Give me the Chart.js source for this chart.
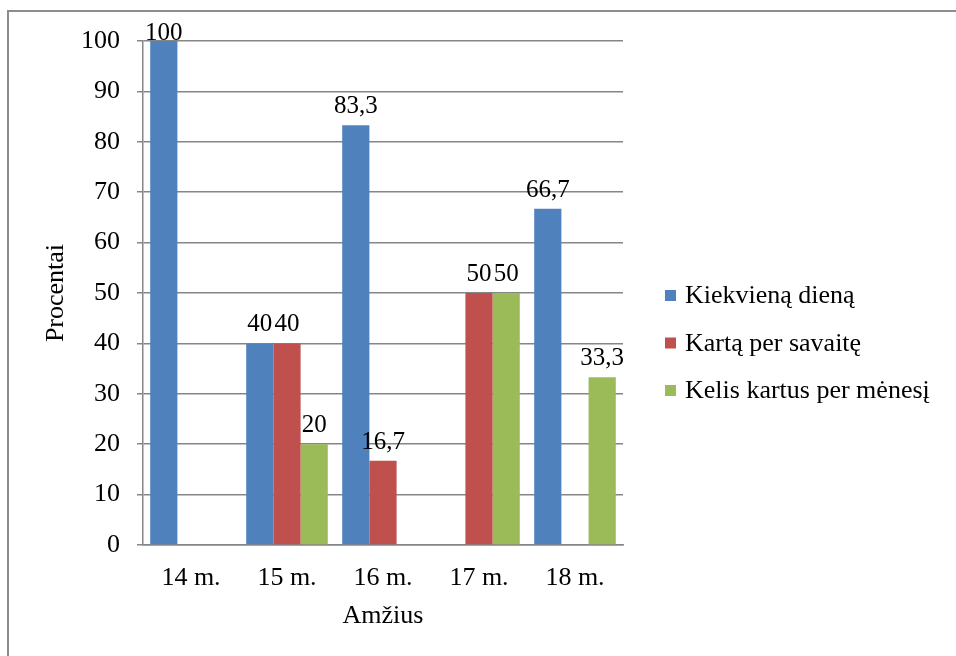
<!DOCTYPE html>
<html>
<head>
<meta charset="utf-8">
<script src="https://cdn.jsdelivr.net/npm/chart.js@4.4.0/dist/chart.umd.min.js"></script>
<style>
  body { margin: 0; background: #fff; overflow: hidden; }
  .frame { position: absolute; left: 7px; top: 10px; width: 1000px; height: 700px; border: 2px solid #8d8d8d; }
  canvas { position: absolute; left: 0; top: 0; }
</style>
</head>
<body>
<div class="frame"></div>
<canvas id="chart" width="956" height="656"></canvas>
<script>
const ages = ["14 m.", "15 m.", "16 m.", "17 m.", "18 m."]
const everyDay = [100, 40, 83.3, 0, 66.7]
const onceAWeek = [0, 40, 16.7, 50, 0]
const fewTimesAMonth = [0, 20, 0, 50, 33.3]
const seriesNames = ["Kiekvieną dieną", "Kartą per savaitę", "Kelis kartus per mėnesį"]
const seriesColors = ["#4f81bd", "#c0504d", "#9bbb59"]

const serif = "'Liberation Serif', 'Times New Roman', serif"
const gridGray = "#868686"

Chart.defaults.font.family = serif
Chart.defaults.font.size = 26
Chart.defaults.color = "#000"

// values above the bars, decimal comma, zeros left out
const valueLabels = {
    id: "valueLabels",
    afterDatasetsDraw(chart) {
        const ctx = chart.ctx
        ctx.save()
        ctx.font = "25px " + serif
        ctx.fillStyle = "#000"
        ctx.textAlign = "center"
        ctx.textBaseline = "alphabetic"
        chart.data.datasets.forEach((ds, i) => {
            chart.getDatasetMeta(i).data.forEach((bar, j) => {
                const v = ds.data[j]
                if (!v) return
                const y = Math.max(bar.y - 12, chart.chartArea.top - 1)
                ctx.fillText(String(v).replace(".", ","), bar.x, y)
            })
        })
        ctx.restore()
    }
}

// the built-in legend is capped too narrow on the right, so draw it here
const sideLegend = {
    id: "sideLegend",
    afterDraw(chart) {
        const ctx = chart.ctx
        const area = chart.chartArea
        const x = area.right + 42
        const mid = (area.top + area.bottom) / 2 + 50
        ctx.save()
        ctx.font = "26px " + serif
        ctx.textAlign = "left"
        ctx.textBaseline = "middle"
        chart.data.datasets.forEach((ds, i) => {
            const y = mid + (i - 1) * 47.5
            ctx.fillStyle = ds.backgroundColor
            ctx.fillRect(x, y - 5.5, 11, 11)
            ctx.fillStyle = "#000"
            ctx.fillText(ds.label, x + 20, y + 1)
        })
        ctx.restore()
    }
}

const allSeries = [everyDay, onceAWeek, fewTimesAMonth]

new Chart(document.getElementById("chart"), {
    type: "bar",
    data: {
        labels: ages,
        datasets: allSeries.map((values, i) => ({
            label: seriesNames[i],
            data: values,
            backgroundColor: seriesColors[i],
            borderWidth: 0,
            categoryPercentage: 0.85,
            barPercentage: 1
        }))
    },
    options: {
        responsive: false,
        animation: false,
        devicePixelRatio: 1,
        layout: { padding: { left: 41, top: 41, right: 333, bottom: 10 } },
        plugins: {
            tooltip: { enabled: false },
            legend: { display: false }
        },
        scales: {
            x: {
                grid: { display: false },
                border: { color: gridGray, width: 1.5 },
                ticks: { padding: 10, color: "#000" },
                title: { display: true, text: "Amžius", padding: { top: 0, bottom: 14 }, color: "#000" },
                afterFit: s => { s.height = 101 }
            },
            y: {
                min: 0,
                max: 100,
                ticks: { stepSize: 10, padding: 17, color: "#000" },
                grid: { color: gridGray, lineWidth: 1.5, tickLength: 6 },
                border: { color: gridGray, width: 1.5 },
                title: { display: true, text: "Procentai", padding: 0, color: "#000" },
                afterFit: s => { s.width = 102 }
            }
        }
    },
    plugins: [valueLabels, sideLegend]
})
</script>
</body>
</html>
